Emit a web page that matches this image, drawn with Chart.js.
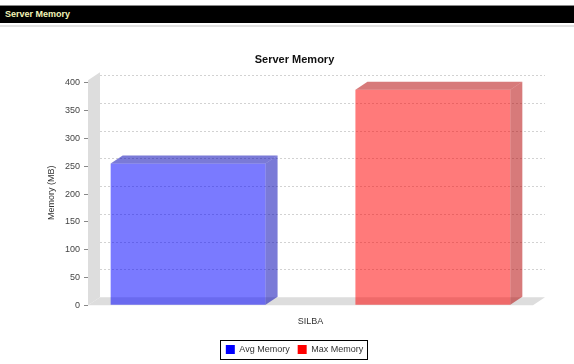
<!DOCTYPE html>
<html>
<head>
<meta charset="utf-8">
<script src="https://cdn.jsdelivr.net/npm/chart.js@4"></script>
<style>
  body { margin: 0; background: #fff; width: 574px; height: 364px; overflow: hidden; position: relative; }
  #chart { position: absolute; left: 0; top: 0; }
  #hdr { position: absolute; left: 0; top: 5px; width: 574px; height: 18px; background: #000; border-top: 1px solid #888;
         box-sizing: border-box; color: #f4f4b8; font: bold 9px "Liberation Sans", Arial, sans-serif; line-height: 17px; padding-left: 5px; }
  #rule { position: absolute; left: 0; top: 25px; width: 574px; height: 2px; background: #e2e2e2; }
</style>
</head>
<body>
<canvas id="chart" width="574" height="364"></canvas>
<div id="hdr">Server Memory</div>
<div id="rule"></div>
<script>
// ── Data ───────────────────────────────────────────────────────────────────────
const categories = ['SILBA'];
const seriesNames = ['Avg Memory', 'Max Memory'];
const avgMemory = [255];
const maxMemory = [388];
const yTicks = [0, 50, 100, 150, 200, 250, 300, 350, 400];
const yMax = 405;

const frontColors = ['rgba(0, 0, 255, 0.52)', 'rgba(255, 0, 0, 0.52)'];
const sideColors = ['rgba(0, 0, 178, 0.52)', 'rgba(178, 0, 0, 0.52)'];
const legendColors = ['#0000ff', '#ff0000'];

// 3D depth offset (JFreeChart style)
const DX = 12, DY = 8;

function poly(ctx, pts) {
  ctx.beginPath();
  ctx.moveTo(pts[0][0], pts[0][1]);
  pts.slice(1).forEach(p => ctx.lineTo(p[0], p[1]));
  ctx.closePath();
  ctx.fill();
}

// ── Walls, gridlines and bar faces ─────────────────────────────────────────────
const plot3d = {
  id: 'plot3d',
  beforeDatasetsDraw(chart) {
    const { ctx, chartArea: a, scales: { y } } = chart;
    ctx.save();
    ctx.fillStyle = '#dddddd';
    poly(ctx, [[a.left, a.top], [a.left + DX, a.top - DY], [a.left + DX, a.bottom - DY], [a.left, a.bottom]]);
    poly(ctx, [[a.left, a.bottom], [a.left + DX, a.bottom - DY], [a.right + DX, a.bottom - DY], [a.right, a.bottom]]);
    ctx.strokeStyle = '#d2d2d2';
    ctx.lineWidth = 1;
    ctx.setLineDash([2, 2]);
    y.ticks.forEach(t => {
      if (t.value === 0) return;
      const py = Math.round(y.getPixelForValue(t.value) - DY) + 0.5;
      ctx.beginPath();
      ctx.moveTo(a.left + DX, py);
      ctx.lineTo(a.right + DX, py);
      ctx.stroke();
    });
    ctx.restore();
  },
  afterDatasetsDraw(chart) {
    const ctx = chart.ctx;
    ctx.save();
    chart.data.datasets.forEach((ds, i) => {
      chart.getDatasetMeta(i).data.forEach(bar => {
        const { x, y, base, width } = bar.getProps(['x', 'y', 'base', 'width'], true);
        const x0 = x - width / 2, x1 = x + width / 2;
        ctx.fillStyle = sideColors[i];
        poly(ctx, [[x0, y], [x0 + DX, y - DY], [x1 + DX, y - DY], [x1, y]]);
        poly(ctx, [[x1, y], [x1 + DX, y - DY], [x1 + DX, base - DY], [x1, base]]);
      });
    });
    ctx.restore();
  },
  afterDraw(chart) {
    // border round the legend
    const hb = chart.legend.legendHitBoxes;
    if (!hb || !hb.length) return;
    const ctx = chart.ctx;
    const l = Math.min(...hb.map(h => h.left)) - 6;
    const r = Math.max(...hb.map(h => h.left + h.width)) + 4;
    const t = hb[0].top - 5;
    const b = hb[0].top + hb[0].height + 5;
    ctx.save();
    ctx.strokeStyle = '#000';
    ctx.lineWidth = 1;
    ctx.strokeRect(Math.round(l) + 0.5, Math.round(t) + 0.5, Math.round(r - l), Math.round(b - t));
    ctx.restore();
  }
};

Chart.defaults.font.family = '"Liberation Sans", Arial, sans-serif';

new Chart(document.getElementById('chart'), {
  type: 'bar',
  data: {
    labels: categories,
    datasets: [
      { label: seriesNames[0], data: avgMemory, backgroundColor: frontColors[0], borderWidth: 0 },
      { label: seriesNames[1], data: maxMemory, backgroundColor: frontColors[1], borderWidth: 0 }
    ]
  },
  options: {
    responsive: false,
    animation: false,
    categoryPercentage: 1.1,
    barPercentage: 0.633,
    layout: { padding: { left: 15, right: 0, top: 0, bottom: 0 } },
    plugins: {
      title: {
        display: true, text: 'Server Memory', color: '#111',
        font: { size: 11, weight: 'bold' }, padding: { top: 53, bottom: 14 }
      },
      legend: {
        position: 'bottom',
        labels: {
          boxWidth: 9, boxHeight: 9, padding: 8, color: '#333', font: { size: 9 },
          generateLabels: () => seriesNames.map((n, i) => ({
            text: n, fillStyle: legendColors[i], strokeStyle: legendColors[i],
            fontColor: '#333', lineWidth: 0, hidden: false, datasetIndex: i
          }))
        }
      },
      tooltip: { enabled: false }
    },
    scales: {
      x: {
        grid: { display: false, drawTicks: false },
        border: { display: false },
        ticks: { color: '#333', font: { size: 9 }, padding: 11 },
        afterFit: s => { s.height -= 1; }
      },
      y: {
        min: 0, max: yMax,
        ticks: { color: '#444', font: { size: 9 }, padding: 4 },
        afterBuildTicks: s => { s.ticks = yTicks.map(v => ({ value: v })); },
        afterFit: s => { s.width = 73; },
        grid: { drawOnChartArea: false, color: '#888', tickLength: 4 },
        border: { display: false },
        title: { display: true, text: 'Memory (MB)', color: '#333', font: { size: 9 }, padding: { top: 31, bottom: 0 } }
      },
      y2: {
        type: 'linear', position: 'right', display: true,
        ticks: { display: false }, grid: { display: false, drawTicks: false }, border: { display: false },
        afterFit: s => { s.width = 41; }
      }
    }
  },
  plugins: [plot3d]
});
</script>
</body>
</html>
